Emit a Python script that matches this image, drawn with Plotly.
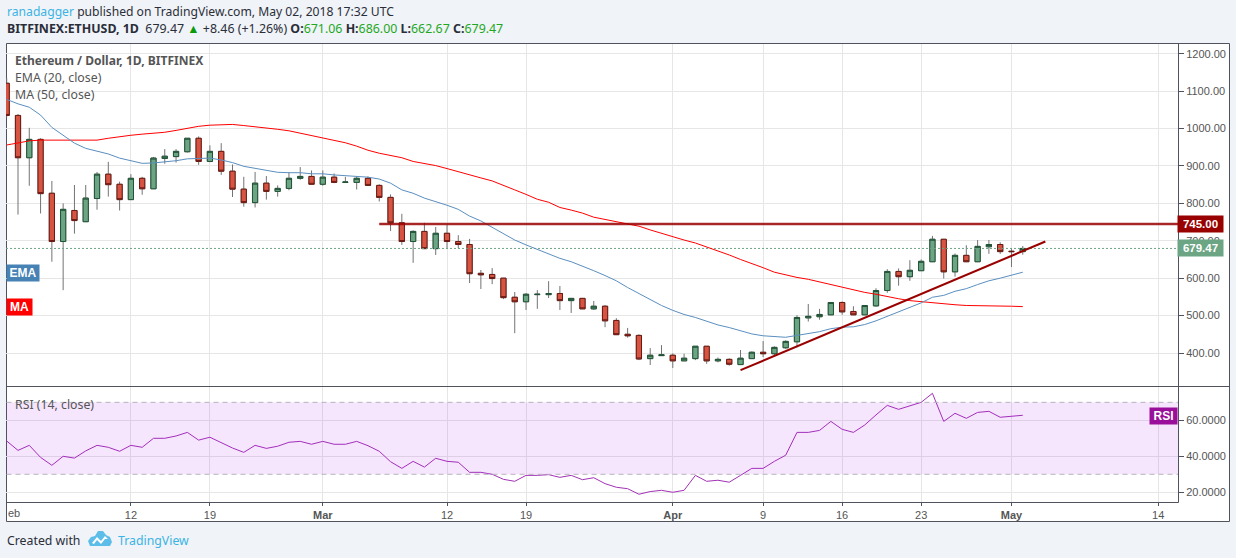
import numpy as np
import pandas as pd
import plotly.graph_objects as go

W, H = 1236, 558
dates = pd.date_range("2018-02-01", periods=91, freq="D").strftime("%Y-%m-%d").tolist()

opens = [1121,1035,922,971,827,698,781,751,813,878,851,810,867,839,920,925,938,974,912,939,
         886,838,802,854,832,840,867,872,851,870,856,856,867,848,816,748,698,725,679,720,
         698,690,613,610,600,549,537,556,556,559,540,546,518,525,487,450,447,385,393,394,
         379,385,418,379,383,369,385,402,398,414,430,494,497,502,535,511,502,526,567,618,
         604,620,644,704,617,661,644,684,690,672,671.06]
closes = [1035,922,971,826,698,784,754,814,878,850,810,867,839,921,926,939,974,912,939,886,
          838,802,854,832,840,867,872,851,870,856,857,867,848,816,748,698,725,679,720,698,
          690,612,609,599,548,537,557,557,559,540,546,518,525,486,449,446,384,394,395,379,
          386,418,379,383,370,386,402,398,415,431,495,498,503,535,510,502,527,567,618,604,
          621,645,704,617,661,644,685,690,671,671,679.47]
highs = [1135,1039,1002,974,860,800,849,849,884,911,858,878,871,924,945,945,974,979,955,961,
         904,871,884,873,848,883,897,888,888,880,871,872,872,851,824,772,728,748,737,743,
         715,705,622,627,600,563,560,568,592,579,546,546,539,528,493,467,450,413,421,399,
         398,418,418,388,386,408,404,432,418,434,501,531,518,535,538,525,527,573,624,626,
         648,650,713,704,666,688,702,702,696,680,686.00]
lows = [1030,770,847,773,644,568,719,751,783,818,781,810,823,839,906,909,936,903,910,876,
        817,791,789,810,818,835,863,851,847,854,856,837,847,805,726,689,641,679,662,679,
        680,587,571,584,544,453,515,518,547,515,507,518,515,469,449,441,381,368,393,360,
        379,381,371,375,366,369,385,389,392,411,415,484,489,502,502,502,502,524,561,580,
        593,620,644,599,604,644,644,665,665,630,662.67]

ema20 = [1078,1066,1057,1036,1003,983,961,947,940,932,921,914,907,908,910,914,919,919,921,916,
         909,899,894,889,883,882,882,879,879,876,874,871,870,865,854,836,827,814,805,795,
         784,766,753,736,718,702,689,677,665,653,644,633,620,607,593,575,559,542,527,514,
         503,495,485,475,468,460,451,446,444,442,447,452,457,465,469,470,476,486,498,509,
         520,534,549,554,565,572,583,593,600,608,616]
ma50 = [956,961,967,969,969,969,969,969,969,974,977,982,985,987,990,995,1001,1006,1009,1011,
        1011,1008,1005,1003,998,994,988,981,974,970,962,953,942,934,928,922,912,907,901,893,
        884,876,868,860,849,836,824,811,803,789,782,774,763,757,753,745,739,729,720,709,
        702,694,684,673,662,650,640,628,616,608,602,597,590,583,575,570,562,557,550,545,
        540,537,534,530,529,527,527,527,526,525,524]
rsi14 = [48.5,43.3,46.1,39.4,35,40,39,43,46.1,45,42.8,46.1,45,50,50,51.3,53.3,49,50.6,47.6,
         44.6,42.2,46.1,44.4,45.6,47.8,48.3,46.7,48.3,46.7,46.7,48.3,45.9,42.8,37,33.3,37.2,34,38.9,37.2,
         36.7,31.1,31.1,30,27.2,26.1,29.4,29.4,29.8,28.3,29.4,27,28.1,24.8,22.8,22,18.9,20.4,21.1,20,
         21.1,29.4,26.1,26.7,25.6,29.4,33.3,33.3,37.2,40.6,53.3,53.3,54.4,59.4,55,53.3,57.4,63,68.3,66.1,
         68,70,75,59.4,63.9,61.1,64.4,65,61.7,62.2,62.8]

resistance_x = ["2018-03-06", "2018-05-15 18:00"]
resistance_y = [745, 745]
support_x = ["2018-04-07", "2018-05-04"]
support_y = [354, 698]
last_x = ["2018-01-31 22:30", "2018-05-15 18:00"]
last_y = [679.47, 679.47]

price_ticks = [400, 500, 600, 700, 800, 900, 1000, 1100, 1200]
rsi_ticks = [20, 40, 60]
date_ticks = ["2018-02-12", "2018-02-19", "2018-03-01", "2018-03-12", "2018-03-19", "2018-04-01",
              "2018-04-09", "2018-04-16", "2018-04-23", "2018-05-01", "2018-05-14"]
date_labels = ["12", "19", "<b>Mar</b>", "12", "19", "<b>Apr</b>", "9", "16", "23", "<b>May</b>", "14"]

UP, DOWN, UPB, DOWNB, WICK = "#6BA583", "#D75442", "#225437", "#6B1A12", "#737375"
GRID, FRAME, TXT = "#E6E6E6", "#50535E", "#555555"
AXFONT = "Liberation Sans"
UI = "Noto Sans"

def px(x): return x / W
def py(y): return 1 - y / H

fig = go.Figure()
# wicks
fig.add_trace(go.Candlestick(x=dates, open=opens, high=highs, low=lows, close=closes,
    increasing=dict(line=dict(color=WICK, width=1), fillcolor=UP),
    decreasing=dict(line=dict(color=WICK, width=1), fillcolor=DOWN),
    whiskerwidth=0, showlegend=False, hoverinfo="skip"))
# bodies
body_hi = np.maximum(opens, closes).tolist()
body_lo = np.minimum(opens, closes).tolist()
fig.add_trace(go.Candlestick(x=dates, open=opens, high=body_hi, low=body_lo, close=closes,
    increasing=dict(line=dict(color=UPB, width=1), fillcolor=UP),
    decreasing=dict(line=dict(color=DOWNB, width=1), fillcolor=DOWN),
    whiskerwidth=0, showlegend=False, hoverinfo="skip"))
fig.add_trace(go.Scatter(x=last_x, y=last_y, mode="lines", showlegend=False,
    line=dict(color=UP, width=1, dash="2px,2px")))
fig.add_trace(go.Scatter(x=dates, y=ma50, mode="lines", showlegend=False, line=dict(color="#FF0000", width=1)))
fig.add_trace(go.Scatter(x=dates, y=ema20, mode="lines", showlegend=False, line=dict(color="#5A8FC0", width=1)))
fig.add_trace(go.Scatter(x=resistance_x, y=resistance_y, mode="lines", showlegend=False,
    line=dict(color="rgba(153,0,0,0.4)", width=3)))
fig.add_trace(go.Scatter(x=resistance_x, y=resistance_y, mode="lines", showlegend=False,
    line=dict(color="#990000", width=1.5)))
fig.add_trace(go.Scatter(x=support_x, y=support_y, mode="lines", showlegend=False,
    line=dict(color="#990000", width=2)))
fig.add_trace(go.Scatter(x=dates, y=rsi14, mode="lines", xaxis="x2", yaxis="y2", showlegend=False,
    line=dict(color="#A231B5", width=1)))

xrange_ = ["2018-01-31 22:30", "2018-05-15 18:00"]
xcommon = dict(range=xrange_, type="date", domain=[px(6), px(1178)], tickmode="array",
               showgrid=True, gridcolor=GRID, gridwidth=1, zeroline=False, showline=False)

shapes = [
    dict(type="rect", xref="paper", yref="paper", x0=px(6.5), x1=px(1229.5), y0=py(521.5), y1=py(43.5),
         fillcolor="white", line=dict(color=FRAME, width=1), layer="below"),
    dict(type="line", xref="paper", yref="paper", x0=px(6.5), x1=px(1229.5), y0=py(386.5), y1=py(386.5),
         line=dict(color=FRAME, width=1), layer="above"),
    dict(type="line", xref="paper", yref="paper", x0=px(6.5), x1=px(1178.5), y0=py(502.5), y1=py(502.5),
         line=dict(color=FRAME, width=1), layer="above"),
    dict(type="line", xref="paper", yref="paper", x0=px(1178.5), x1=px(1178.5), y0=py(502.5), y1=py(43.5),
         line=dict(color=FRAME, width=1), layer="above"),
    dict(type="rect", xref="paper", yref="y2", x0=px(6.5), x1=px(1178), y0=30, y1=70,
         fillcolor="rgba(170,30,240,0.11)", line=dict(width=0), layer="above"),
    dict(type="line", xref="paper", yref="y2", x0=px(6.5), x1=px(1178), y0=70, y1=70,
         line=dict(color="#B4B4BC", width=1, dash="5px,4px"), layer="above"),
    dict(type="line", xref="paper", yref="y2", x0=px(6.5), x1=px(1178), y0=30, y1=30,
         line=dict(color="#B4B4BC", width=1, dash="5px,4px"), layer="above"),
]
# TradingView logo (decoration)
def path(pts):
    return "M " + " L ".join(f"{px(a):.5f},{py(b):.5f}" for a, b in pts) + " Z"
shapes.append(dict(type="path", xref="paper", yref="paper",
    path=path([(88,541),(91,537),(95,536),(98,531),(103,531),(106,535),(110,537),(112,542),(110,546),(90,546)]),
    fillcolor="#5BBDE8", line=dict(width=0)))
shapes.append(dict(type="path", xref="paper", yref="paper",
    path=path([(92,543),(97,537),(101,541),(105,536),(108,539),(105,539),(101,544),(97,540),(94,544)]),
    fillcolor="white", line=dict(width=0)))

def note(text, x, y, size=12, color=TXT, font=UI, anchor="left", **kw):
    return dict(text=text, xref="paper", yref="paper", x=px(x), y=py(y), xanchor=anchor, yanchor="middle",
                showarrow=False, font=dict(size=size, color=color, family=font), **kw)

G = "#1FA81F"
annotations = [
    note("<span style='color:#3BB3E4'>ranadagger</span> published on TradingView.com, May 02, 2018 17:32 UTC", 5, 11, 12.15, "#2A2E39"),
    note(f"<b>BITFINEX:ETHUSD, 1D</b>\u00a0 679.47 <span style='color:#0A9A0A'>▲</span> +8.46 (+1.26%) "
         f"<b>O:</b><span style='color:{G}'>671.06</span> <b>H:</b><span style='color:{G}'>686.00</span> "
         f"<b>L:</b><span style='color:{G}'>662.67</span> <b>C:</b><span style='color:{G}'>679.47</span>", 5, 29, 12.4, "#2A2E39"),
    note("<b>Ethereum / Dollar, 1D, BITFINEX</b>", 13, 60, 12.05),
    note("EMA (20, close)", 13, 77, 12.3),
    note("MA (50, close)", 13, 94, 12.3),
    note("RSI (14, close)", 13, 404, 12.3),
    note("eb", 6, 513, 11, "#555555", AXFONT),
    note("Created with", 5, 540, 12.3, "#2A2E39"),
    note("TradingView", 116, 540, 12.3, "#3BB3E4"),
    note("<b>EMA</b>", 23, 273, 12, "white", AXFONT, "center", bgcolor="#4682B4", width=32, height=16, borderpad=0),
    note("<b>MA</b>", 19.5, 307, 12, "white", AXFONT, "center", bgcolor="#FF0000", width=25, height=16, borderpad=0),
    note("<b>RSI</b>", 1163.5, 416, 12, "white", AXFONT, "center", bgcolor="#990F99", width=27, height=16, borderpad=0),
    dict(text="<b>745.00</b>", xref="paper", yref="y", x=px(1200.5), y=resistance_y[0], xanchor="center", yanchor="middle",
         showarrow=False, font=dict(size=11.5, color="white", family=AXFONT), bgcolor="#990000", width=45, height=16, borderpad=0),
    dict(text="<b>679.47</b>", xref="paper", yref="y", x=px(1200.5), y=last_y[0], xanchor="center", yanchor="middle",
         showarrow=False, font=dict(size=11.5, color="white", family=AXFONT), bgcolor=UP, width=45, height=16, borderpad=0),
]

fig.update_layout(
    width=W, height=H, autosize=False, margin=dict(l=0, r=0, t=0, b=0, pad=0),
    paper_bgcolor="#F0F3F7", plot_bgcolor="rgba(0,0,0,0)", showlegend=False, boxgap=0.34,
    font=dict(family=AXFONT, size=11, color=TXT), hovermode=False,
    shapes=shapes, annotations=annotations,
    xaxis=dict(**xcommon, anchor="y", tickvals=date_ticks, ticktext=[""] * len(date_ticks),
               rangeslider=dict(visible=False), ticks=""),
    xaxis2=dict(**xcommon, anchor="y2", matches="x", tickvals=date_ticks, ticktext=date_labels,
                ticks="outside", ticklen=3, tickcolor=FRAME, tickfont=dict(size=11, color=TXT, family=AXFONT)),
    yaxis=dict(domain=[py(387), py(44)], range=[309.1, 1226], side="right", anchor="x", tickmode="array",
               tickvals=price_ticks, ticktext=[f"{v:.2f}" for v in price_ticks], ticks="outside", ticklen=5,
               tickcolor=FRAME, showgrid=True, gridcolor=GRID, zeroline=False, showline=False,
               tickfont=dict(size=11, color=TXT, family=AXFONT)),
    yaxis2=dict(domain=[py(502), py(386.5)], range=[14.6, 78.8], side="right", anchor="x2", tickmode="array",
                tickvals=rsi_ticks, ticktext=[f"{v:.4f}" for v in rsi_ticks], ticks="outside", ticklen=5,
                tickcolor=FRAME, showgrid=True, gridcolor=GRID, zeroline=False, showline=False,
                tickfont=dict(size=11, color=TXT, family=AXFONT)),
)

fig.write_html("out.html", config=dict(displayModeBar=False),
               post_script="document.body.style.margin='0';document.body.style.overflow='hidden';")
